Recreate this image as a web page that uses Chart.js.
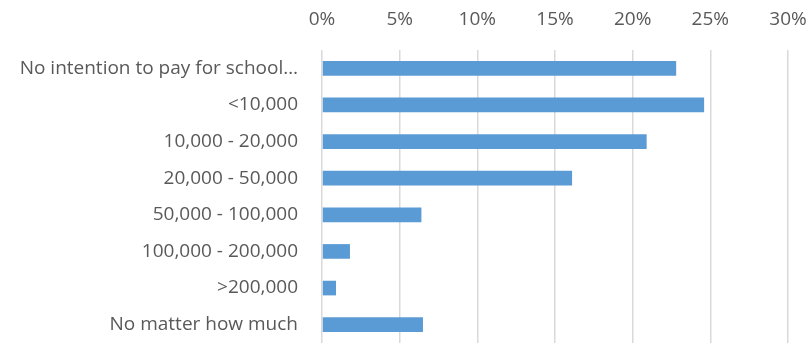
<html>
<script src="https://cdn.jsdelivr.net/npm/chart.js@4.4.1/dist/chart.umd.min.js"></script>
<style>
  body {
    margin: 0;
    background: white;
  }
</style>

<body>
  <canvas id="budgetChart" width="809" height="343"></canvas>
</body>

<script>
  // data
  var categories = [
    "No intention to pay for school\u2026",
    "<10,000",
    "10,000 - 20,000",
    "20,000 - 50,000",
    "50,000 - 100,000",
    "100,000 - 200,000",
    ">200,000",
    "No matter how much"
  ];
  var shares = [22.8, 24.6, 20.9, 16.1, 6.4, 1.8, 0.9, 6.5];
  var xTicks = [0, 5, 10, 15, 20, 25, 30];

  var textColor = "#595959";
  var fontFamily = "'Open Sans', 'Liberation Sans', sans-serif";

  var ctx = document.getElementById('budgetChart');
  this.chart = new Chart(ctx, {
    type: "bar",
    data: {
      labels: categories,
      datasets: [
        {
          label: "Share",
          backgroundColor: "#5B9BD5",
          borderWidth: 0,
          barPercentage: 0.4,
          categoryPercentage: 1,
          data: shares
        }
      ]
    },
    options: {
      indexAxis: "y",
      responsive: false,
      animation: false,
      devicePixelRatio: 1,
      layout: {
        padding: { left: 0, right: 21, top: 0, bottom: 0 }
      },
      plugins: {
        legend: { display: false },
        tooltip: { enabled: false }
      },
      scales: {
        x: {
          position: "top",
          min: 0,
          max: 30,
          afterBuildTicks: function (scale) {
            scale.ticks = xTicks.map(v => ({ value: v }));
          },
          afterFit: function (scale) {
            scale.height = 50;
            scale.paddingLeft = 0;
            scale.paddingRight = 0;
          },
          border: { display: false },
          grid: {
            color: "#d9d9d9",
            lineWidth: 1.5,
            drawTicks: false
          },
          ticks: {
            color: textColor,
            padding: 19,
            font: { family: fontFamily, size: 19 },
            callback: function (v) { return v + "%"; }
          }
        },
        y: {
          afterFit: function (scale) {
            scale.width = 322;
            scale.paddingTop = 0;
            scale.paddingBottom = 0;
          },
          border: { display: false },
          grid: { display: false },
          ticks: {
            color: textColor,
            padding: 16,
            autoSkip: false,
            font: { family: fontFamily, size: 19 }
          }
        }
      }
    }
  });
</script>

</html>
